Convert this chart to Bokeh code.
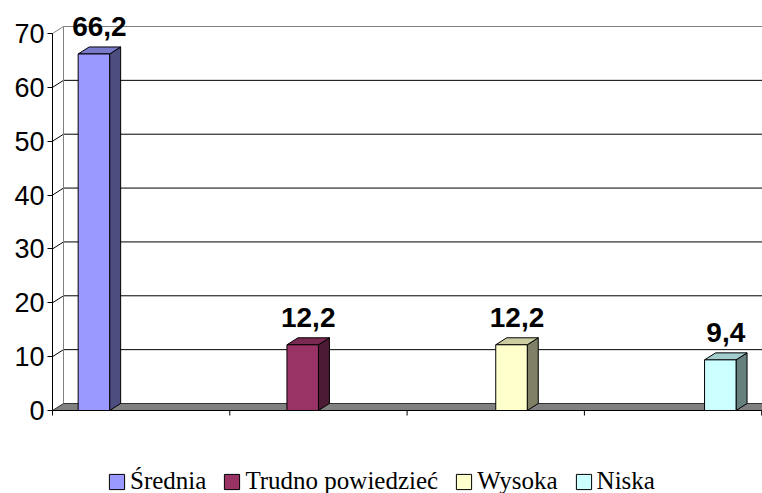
from bokeh.plotting import figure
from bokeh.models import (FixedTicker, Legend, LegendItem, ColumnDataSource, Range1d)
from bokeh.core.properties import value
from bokeh.embed import file_html
from bokeh.resources import INLINE

# ---- data ----
series = ["Średnia", "Trudno powiedzieć", "Wysoka", "Niska"]
values = [66.2, 12.2, 12.2, 9.4]
front_colors = ["#9999FF", "#993366", "#FFFFCC", "#CCFFFF"]
top_colors = ["#7A7ACC", "#7A2952", "#CCCCA3", "#A3CCCC"]
side_colors = ["#4D4D80", "#4D1A33", "#808066", "#668080"]
y_ticks = [0, 10, 20, 30, 40, 50, 60, 70]
cat_bounds = [0, 1, 2, 3, 4]

# ---- geometry (in data units) ----
kx = 177.3           # px per category
ky = 377.0 / 70.0    # px per value unit
dx = 11.0 / kx       # 3D depth offset
dy = 7.0 / ky
bw = 31.5 / kx       # bar width

W, H = 762, 493
left_border = 47
frame_w = W - left_border
x0 = -5.0 / kx
x1 = x0 + frame_w / kx
y1 = 410.0 / ky
y0 = -(H - 410.0) / ky

p = figure(width=W, height=H, output_backend="svg", toolbar_location=None,
           x_range=Range1d(x0, x1), y_range=Range1d(y0, y1),
           min_border_left=left_border, min_border_right=0,
           min_border_top=0, min_border_bottom=0)
p.outline_line_color = None
p.xgrid.visible = False
p.ygrid.visible = False
p.xaxis.visible = False
p.background_fill_color = "white"

yax = p.yaxis[0]
yax.ticker = FixedTicker(ticks=y_ticks)
yax.axis_line_color = None
yax.major_tick_in = 5
yax.major_tick_out = 0
yax.major_tick_line_color = "black"
yax.minor_tick_line_color = None
yax.major_label_text_font = "Liberation Sans"
yax.major_label_text_font_size = "27px"
yax.major_label_text_color = "black"
yax.major_label_standoff = 3

# ---- back wall: gridlines and connectors ----
grid_vals = y_ticks[1:]
grid_cols = ["black"] * (len(grid_vals) - 1) + ["#808080"]
p.segment(x0=[dx] * len(grid_vals), y0=[v + dy for v in grid_vals],
          x1=[4 + dx] * len(grid_vals), y1=[v + dy for v in grid_vals],
          line_color=grid_cols, line_width=1)
p.segment(x0=[0] * len(grid_vals), y0=grid_vals,
          x1=[dx] * len(grid_vals), y1=[v + dy for v in grid_vals],
          line_color=grid_cols, line_width=1)
p.segment(x0=[dx], y0=[dy], x1=[dx], y1=[70 + dy], line_color="#808080", line_width=1)

# ---- floor ----
p.patch(x=[0, 4, 4 + dx, dx], y=[0, 0, dy, dy], fill_color="#808080",
        line_color="#333333", line_width=1)

# ---- axes lines (front) ----
p.segment(x0=[0], y0=[0], x1=[0], y1=[70], line_color="black", line_width=1)
p.segment(x0=[0], y0=[0], x1=[4], y1=[0], line_color="black", line_width=1)
tick_len = 5.0 / ky
p.segment(x0=cat_bounds, y0=[0] * len(cat_bounds), x1=cat_bounds,
          y1=[-tick_len] * len(cat_bounds), line_color="black", line_width=1)

# ---- 3D bars ----
legend_items = []
for i, (name, v) in enumerate(zip(series, values)):
    cx = i + 0.5 + (i - 1.5) * bw
    l, r = cx - bw / 2, cx + bw / 2
    # side face
    p.patch(x=[r, r + dx, r + dx, r], y=[0, dy, v + dy, v],
            fill_color=side_colors[i], line_color="black", line_width=1)
    # top face
    p.patch(x=[l, r, r + dx, l + dx], y=[v, v, v + dy, v + dy],
            fill_color=top_colors[i], line_color="black", line_width=1)
    # front face
    src = ColumnDataSource(dict(left=[l], right=[r], top=[v], bottom=[0]))
    rr = p.quad(left="left", right="right", top="top", bottom="bottom", source=src,
                fill_color=front_colors[i], line_color="black", line_width=1)
    legend_items.append(LegendItem(label=name, renderers=[rr]))

# ---- value labels ----
lab_x = [i + 0.5 + (i - 1.5) * bw + dx / 2 for i in range(len(values))]
lab_y = [v + dy + 2.0 for v in values]
lab_t = [f"{v:.1f}".replace(".", ",") for v in values]
p.text(x=lab_x, y=lab_y, text=lab_t, text_font=value("Liberation Sans"),
       text_font_size="28px", text_font_style="bold", text_color="black",
       text_align="center", text_baseline="bottom")

# ---- legend ----
legend = Legend(items=legend_items, orientation="horizontal", location=(60, -2),
                border_line_color=None, background_fill_alpha=0, padding=0, margin=0,
                glyph_width=19, glyph_height=19, label_standoff=4, spacing=16,
                label_text_font="Liberation Serif", label_text_font_size="25px",
                label_text_color="black")
p.add_layout(legend)

open("out.html", "w").write(file_html(p, INLINE))
